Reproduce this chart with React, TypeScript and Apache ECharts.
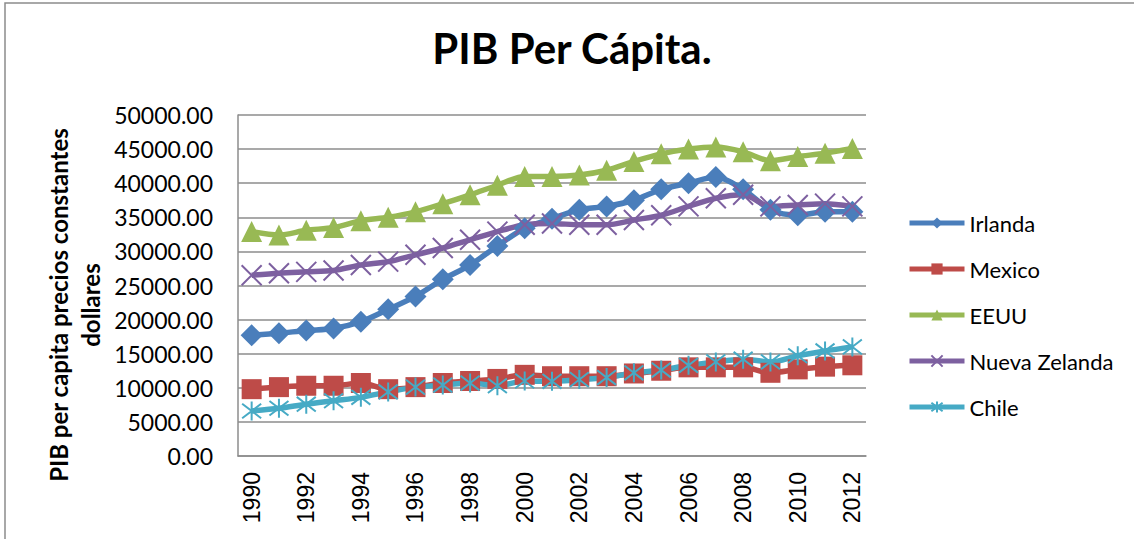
import React, { useEffect, useRef } from "react";
import * as echarts from "echarts";

const years = ["1990","1991","1992","1993","1994","1995","1996","1997","1998","1999","2000","2001","2002","2003","2004","2005","2006","2007","2008","2009","2010","2011","2012"];
const irlanda = [17700, 18000, 18400, 18700, 19700, 21500, 23400, 25900, 28000, 30800, 33400, 34800, 36100, 36600, 37500, 39100, 40000, 40900, 39100, 36100, 35300, 35800, 35800];
const mexico = [9800, 10100, 10300, 10300, 10700, 9800, 10100, 10700, 11000, 11300, 11900, 11700, 11700, 11700, 12100, 12500, 13000, 13000, 13000, 12200, 12700, 13100, 13300];
const eeuu = [32900, 32400, 33100, 33500, 34500, 35000, 35800, 37000, 38300, 39700, 41000, 41000, 41200, 41900, 43200, 44300, 45000, 45300, 44600, 43300, 43900, 44400, 45100];
const nuevaZelanda = [26500, 26800, 27000, 27200, 28000, 28500, 29500, 30500, 31700, 32900, 33900, 34100, 33900, 33900, 34600, 35300, 36600, 37800, 38300, 36600, 36800, 37000, 36600];
const chile = [6600, 7000, 7600, 8100, 8600, 9400, 10100, 10400, 10700, 10300, 11000, 10950, 11200, 11500, 12200, 12600, 13300, 13800, 14200, 13800, 14700, 15400, 16000];

const seriesNames = ["Irlanda", "Mexico", "EEUU", "Nueva Zelanda", "Chile"];
const colors = ["#4A7EBB", "#BE4B48", "#98B954", "#7D60A0", "#46AAC5"];
const title = "PIB Per Cápita.";
const yName = "PIB per capita precios constantes\ndollares";

const X_PATH = "path://M0 0 L10 10 M10 0 L0 10";
const STAR_PATH = "path://M0 0 L10 10 M10 0 L0 10 M5 -1.5 L5 11.5";

export default function App() {
  const ref = useRef<HTMLDivElement>(null);
  useEffect(() => {
    document.body.style.margin = "0";
    const chart = echarts.init(ref.current!, null, { renderer: "svg" });
    const datas = [irlanda, mexico, eeuu, nuevaZelanda, chile];
    const symbols = ["diamond", "rect", "triangle", X_PATH, STAR_PATH];
    const sizes = [22, 20, 21, 20, 19];
    const series = datas.map((d, i) => {
      const stroked = i >= 3;
      return {
        name: seriesNames[i],
        type: "line",
        data: d,
        smooth: 0.3,
        symbol: symbols[i],
        symbolSize: sizes[i],
        showAllSymbol: true,
        lineStyle: { color: colors[i], width: 5.5 },
        itemStyle: stroked
          ? { color: colors[i], borderColor: colors[i], borderWidth: 2 }
          : { color: colors[i], borderWidth: 0 },
        emphasis: { disabled: true },
      };
    });
    chart.setOption({
      animation: false,
      backgroundColor: "#ffffff",
      title: {
        text: title,
        left: 572,
        textAlign: "center",
        top: 27,
        padding: 0,
        textStyle: { fontFamily: "Lato", fontWeight: "bold", fontSize: 42, color: "#000" },
      },
      grid: { left: 238, top: 115, right: 268, bottom: 83, containLabel: false },
      legend: {
        orient: "vertical",
        left: 907,
        top: 209,
        padding: 0,
        itemWidth: 55,
        itemHeight: 14,
        itemGap: 18,
        data: seriesNames,
        lineStyle: { width: 5 },
        textStyle: { fontFamily: "Lato", fontSize: 22, color: "#000", lineHeight: 28 },
      },
      xAxis: {
        type: "category",
        data: years,
        boundaryGap: true,
        axisLine: { lineStyle: { color: "#8C8C8C", width: 1.5 } },
        axisTick: { show: false },
        axisLabel: {
          rotate: 90,
          interval: 1,
          margin: 16,
          color: "#000",
          fontFamily: "Liberation Sans",
          fontSize: 23,
        },
      },
      yAxis: {
        type: "value",
        min: 0,
        max: 50000,
        interval: 5000,
        axisLine: { show: true, lineStyle: { color: "#8C8C8C", width: 1.5 } },
        axisTick: { show: false },
        splitLine: { lineStyle: { color: "#8C8C8C", width: 1.5 } },
        axisLabel: {
          margin: 25,
          color: "#000",
          fontFamily: "Lato",
          fontSize: 23,
          formatter: (v: number) => v.toFixed(2),
        },
      },
      graphic: [
        {
          type: "rect",
          shape: { x: 5, y: 3, width: 1300, height: 700 },
          style: { fill: "none", stroke: "#8C8C8C", lineWidth: 1.5 },
          silent: true,
          z: -1,
        },
        {
          type: "text",
          x: 74,
          y: 305,
          rotation: Math.PI / 2,
          style: {
            text: yName,
            font: "bold 24px Lato",
            fill: "#000",
            align: "center",
            verticalAlign: "middle",
            lineHeight: 32,
          },
        },
      ],
      series,
    });
    return () => chart.dispose();
  }, []);
  return <div ref={ref} style={{ width: 1134, height: 539 }} />;
}
